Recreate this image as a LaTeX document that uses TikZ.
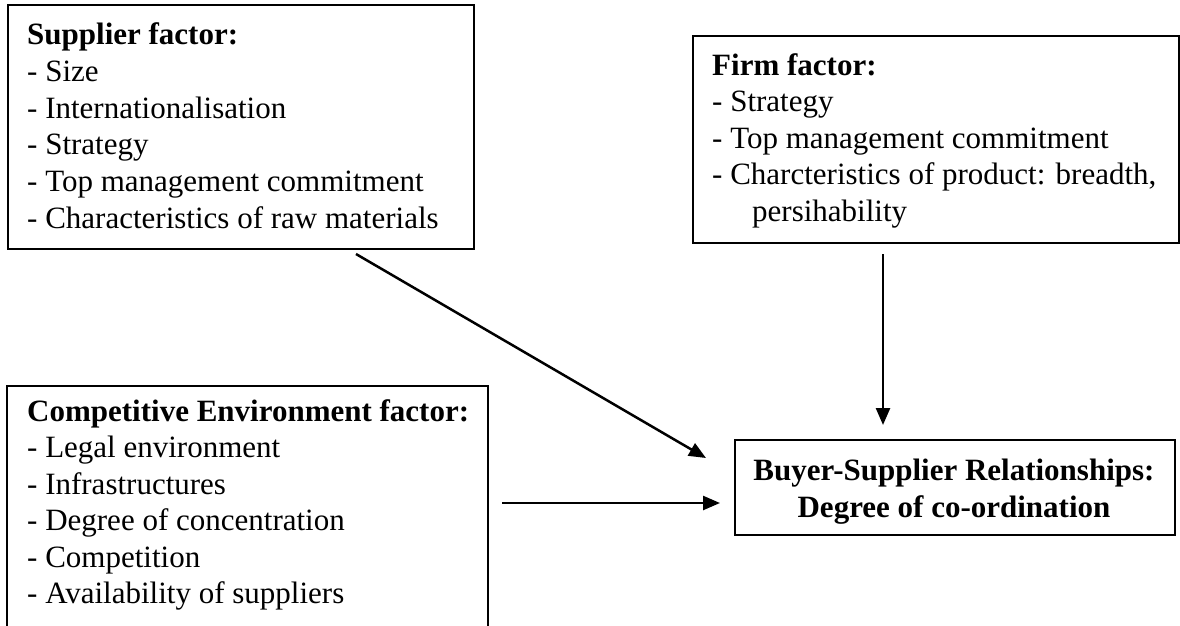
\documentclass[tikz,border=0pt]{standalone}
\usepackage{fontspec}
\setmainfont{Liberation Serif}
\usetikzlibrary{arrows.meta}
\begin{document}
\begin{tikzpicture}[x=1pt,y=-1pt,
  box/.style={draw, line width=2pt, anchor=north west, inner sep=0pt},
  txt/.style={anchor=base west, inner sep=0pt, font=\fontsize{31}{36.5}\selectfont},
  btxt/.style={anchor=base, inner sep=0pt, font=\fontsize{31}{36.5}\selectfont\bfseries},
  conn/.style={line width=2.5pt, -{Triangle[length=17pt,width=14pt]}}]
\useasboundingbox (0,0) rectangle (1180,626);
% boxes
\node[box, minimum width=466pt, minimum height=244pt] (sup) at (7,4) {};
\node[box, minimum width=486pt, minimum height=207pt] (firm) at (692,35) {};
\node[box, minimum width=440pt, minimum height=95pt] (buy) at (734,439) {};
\coordinate (cbl) at (7,640);
\coordinate (ctl) at (7,386);
\coordinate (ctr) at (488,386);
\coordinate (cbr) at (488,640);
\draw[line width=2pt] (cbl) -- (ctl) -- (ctr) -- (cbr);
% supplier text
\node[txt] (s0) at (27,45) {\textbf{Supplier factor:}};
\node[txt] (s1) at (27,81.5) {- Size};
\node[txt] (s2) at (27,118) {- Internationalisation};
\node[txt] (s3) at (27,154.5) {- Strategy};
\node[txt] (s4) at (27,191) {- Top management commitment};
\node[txt] (s5) at (27,228) {- Characteristics of raw materials};
% firm text
\node[txt] (f0) at (712,75) {\textbf{Firm factor:}};
\node[txt] (f1) at (712,111.5) {- Strategy};
\node[txt] (f2) at (712,148) {- Top management commitment};
\node[txt] (f3) at (712,184.5) {- Charcteristics of product: breadth,};
\node[txt] (f4) at (752,221) {persihability};
% competitive text
\node[txt] (c0) at (27,421) {\textbf{Competitive Environment factor:}};
\node[txt] (c1) at (27,457.5) {- Legal environment};
\node[txt] (c2) at (27,494) {- Infrastructures};
\node[txt] (c3) at (27,530.5) {- Degree of concentration};
\node[txt] (c4) at (27,567) {- Competition};
\node[txt] (c5) at (27,603.5) {- Availability of suppliers};
% buyer text
\node[btxt] (b0) at (954,480) {Buyer-Supplier Relationships:};
\node[btxt] (b1) at (954,517) {Degree of co-ordination};
% connectors
\coordinate (a1s) at (356,254);
\coordinate (a1e) at (706,458);
\coordinate (a2s) at (883,254);
\coordinate (a2e) at (883,425);
\coordinate (a3s) at (502,503);
\coordinate (a3e) at (720,503);
\draw[conn] (a1s) -- (a1e);
\draw[conn] (a2s) -- (a2e);
\draw[conn] (a3s) -- (a3e);
\end{tikzpicture}
\end{document}
